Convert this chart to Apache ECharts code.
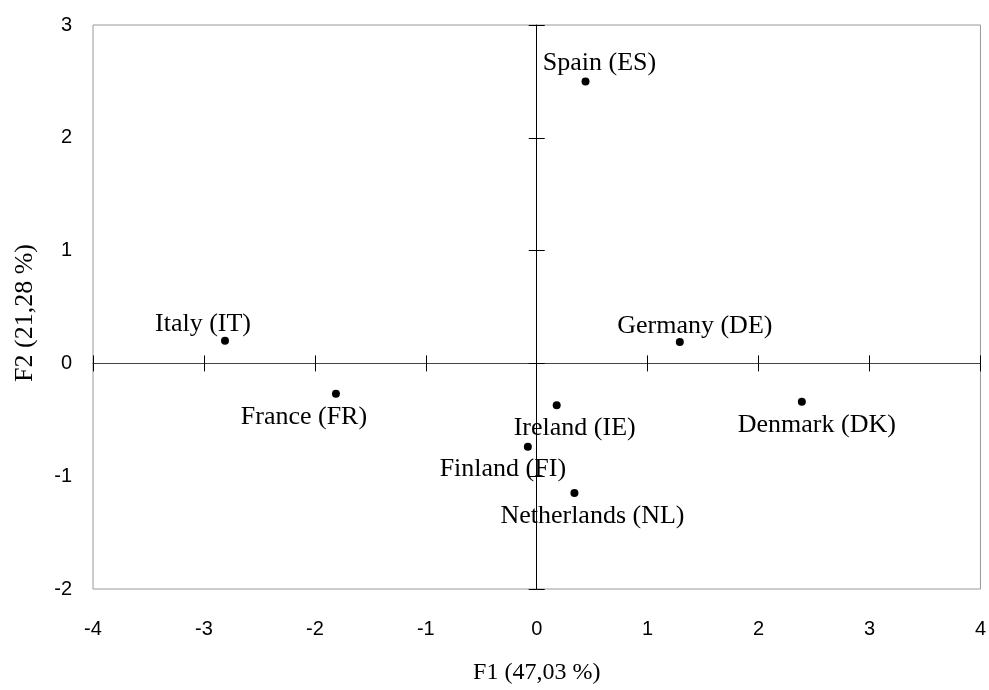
<!DOCTYPE html>
<html>
<head>
<meta charset="utf-8">
<script src="https://cdn.jsdelivr.net/npm/echarts@6/dist/echarts.min.js"></script>
<style>
html,body{margin:0;padding:0;background:#fff;}
#chart{width:989px;height:690px;}
</style>
</head>
<body>
<div id="chart"></div>
<script>
// Data
const countries = ['Spain (ES)', 'Italy (IT)', 'Germany (DE)', 'France (FR)', 'Ireland (IE)', 'Finland (FI)', 'Netherlands (NL)', 'Denmark (DK)'];
const f1Values = [0.44, -2.81, 1.29, -1.81, 0.18, -0.08, 0.34, 2.39];
const f2Values = [2.50, 0.20, 0.19, -0.27, -0.37, -0.74, -1.15, -0.34];
const xTicks = [-4, -3, -2, -1, 0, 1, 2, 3, 4];
const yTicks = [-2, -1, 0, 1, 2, 3];
const xTitle = 'F1 (47,03 %)';
const yTitle = 'F2 (21,28 %)';

// label placement (style only)
const labelOffsets = {
  'Spain (ES)': [14, -18],
  'Italy (IT)': [-22, -17],
  'Germany (DE)': [15, -16],
  'France (FR)': [-32, 23],
  'Ireland (IE)': [18, 23],
  'Finland (FI)': [-25, 22],
  'Netherlands (NL)': [18, 23],
  'Denmark (DK)': [15, 23]
};

const points = countries.map((c, i) => ({
  name: c,
  value: [f1Values[i], f2Values[i]],
  label: { offset: labelOffsets[c] }
}));

const xMin = xTicks[0], xMax = xTicks[xTicks.length - 1];
const yMin = yTicks[0], yMax = yTicks[yTicks.length - 1];

const chart = echarts.init(document.getElementById('chart'));
const base = { type: 'value', splitLine: { show: false } };
chart.setOption({
  animation: false,
  backgroundColor: '#fff',
  grid: { left: 93, top: 25, right: 7, bottom: 98, show: true, borderColor: '#999', borderWidth: 1, backgroundColor: 'transparent' },
  xAxis: [
    Object.assign({}, base, {
      min: xMin, max: xMax, interval: 1, position: 'bottom',
      axisLine: { show: false, onZero: false },
      axisTick: { show: false },
      axisLabel: { margin: 30, color: '#000', fontFamily: 'Liberation Sans', fontSize: 20 },
      name: xTitle, nameLocation: 'middle', nameGap: 72,
      nameTextStyle: { color: '#000', fontFamily: 'Liberation Serif', fontSize: 24 }
    }),
    Object.assign({}, base, {
      min: xMin, max: xMax, interval: 1, position: 'bottom',
      axisLine: { show: true, onZero: true, onZeroAxisIndex: 0, lineStyle: { color: '#444', width: 1 } },
      axisTick: { show: true, inside: false, length: 8, lineStyle: { color: '#000' } },
      axisLabel: { show: false }
    }),
    Object.assign({}, base, {
      min: xMin, max: xMax, interval: 1, position: 'bottom',
      axisLine: { show: false, onZero: true, onZeroAxisIndex: 0 },
      axisTick: { show: true, inside: true, length: 8, lineStyle: { color: '#000' } },
      axisLabel: { show: false }
    })
  ],
  yAxis: [
    Object.assign({}, base, {
      min: yMin, max: yMax, interval: 1, position: 'left',
      axisLine: { show: false, onZero: false },
      axisTick: { show: false },
      axisLabel: { margin: 21, color: '#000', fontFamily: 'Liberation Sans', fontSize: 20 },
      name: yTitle, nameLocation: 'middle', nameGap: 55,
      nameTextStyle: { color: '#000', fontFamily: 'Liberation Serif', fontSize: 26, padding: [0, 12, 0, 0] }
    }),
    Object.assign({}, base, {
      min: yMin, max: yMax, interval: 1, position: 'left',
      axisLine: { show: true, onZero: true, onZeroAxisIndex: 0, lineStyle: { color: '#000', width: 1 } },
      axisTick: { show: true, inside: false, length: 8, lineStyle: { color: '#000' } },
      axisLabel: { show: false }
    }),
    Object.assign({}, base, {
      min: yMin, max: yMax, interval: 1, position: 'left',
      axisLine: { show: false, onZero: true, onZeroAxisIndex: 0 },
      axisTick: { show: true, inside: true, length: 8, lineStyle: { color: '#000' } },
      axisLabel: { show: false }
    })
  ],
  series: [{
    type: 'scatter',
    xAxisIndex: 0, yAxisIndex: 0,
    symbol: 'circle', symbolSize: 8,
    itemStyle: { color: '#000', opacity: 1 },
    label: {
      show: true, position: 'inside', formatter: '{b}',
      color: '#000', opacity: 1, fontFamily: 'Liberation Serif', fontSize: 26,
      align: 'center', verticalAlign: 'middle'
    },
    emphasis: { disabled: true },
    data: points
  }]
});
</script>
</body>
</html>
